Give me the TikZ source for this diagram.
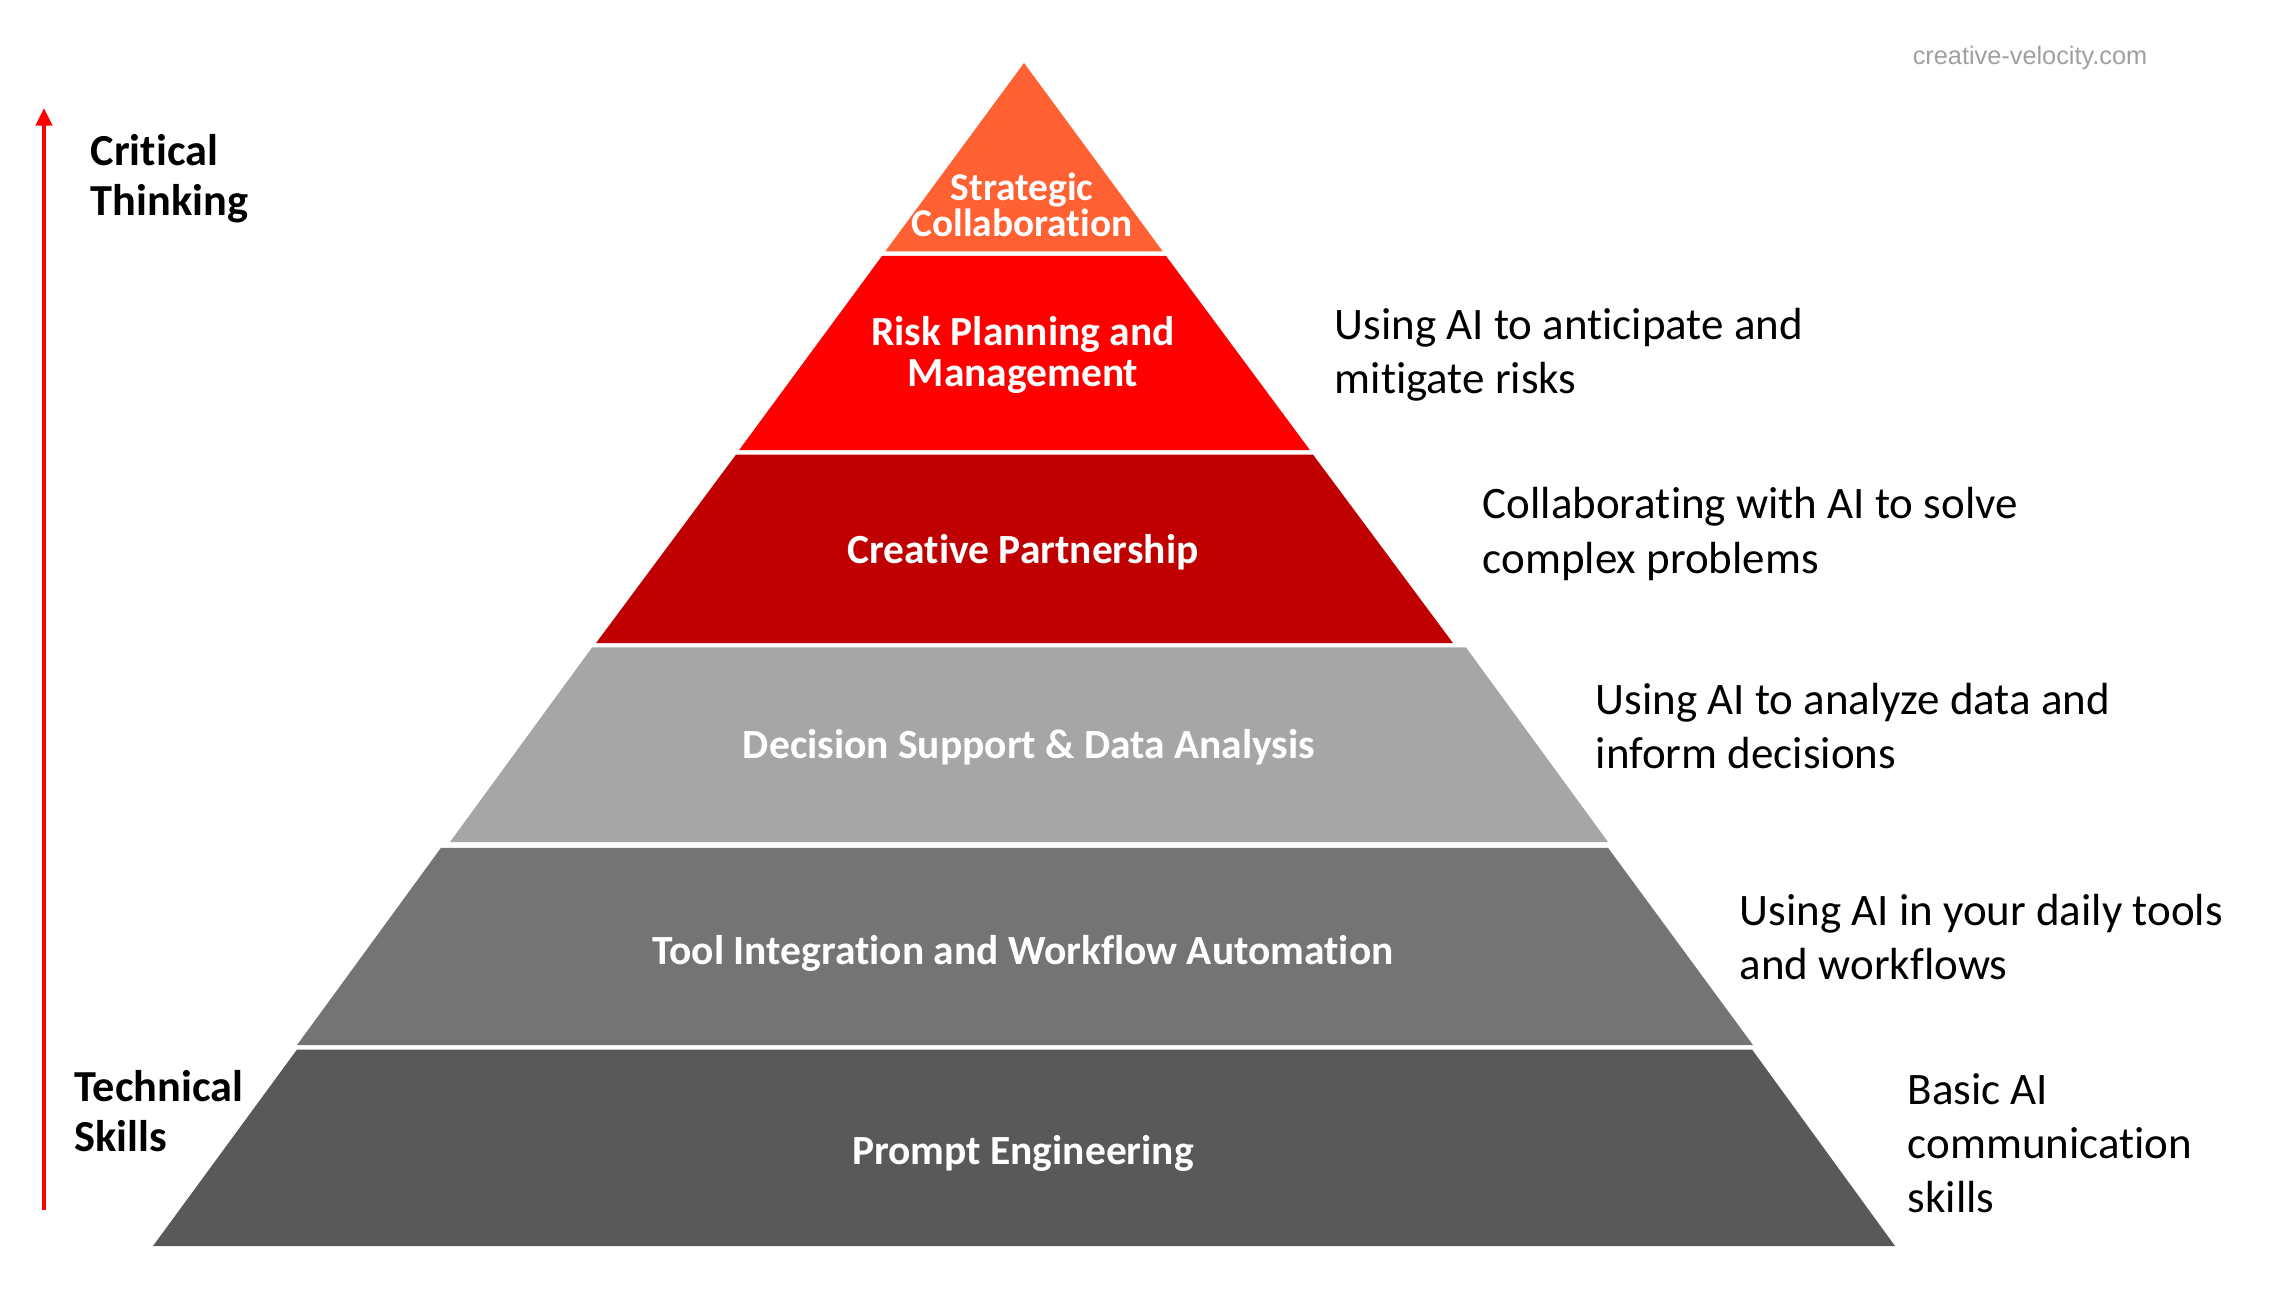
\documentclass[tikz,border=0pt]{standalone}
\usepackage{fontspec}
\setmainfont{Carlito}[Ligatures=NoCommon]
\newfontfamily\urlfont{Liberation Sans}
\usetikzlibrary{arrows.meta}
\definecolor{cOrange}{RGB}{255,97,51}
\definecolor{cRed}{RGB}{255,0,0}
\definecolor{cDark}{RGB}{192,0,0}
\definecolor{cGa}{RGB}{166,166,166}
\definecolor{cGb}{RGB}{116,116,116}
\definecolor{cGc}{RGB}{89,89,89}
\definecolor{cUrl}{RGB}{160,160,160}
\begin{document}
\begin{tikzpicture}[x=0.01cm,y=-0.01cm,
 layerlabel/.style={text=white,font=\fontsize{11.8}{11.7}\selectfont\bfseries,align=center,inner sep=0},
 desc/.style={anchor=west,align=left,font=\fontsize{12.8}{15.4}\selectfont,inner sep=0},
 sidelabel/.style={anchor=west,align=left,font=\fontsize{12.6}{14.3}\selectfont\bfseries,inner sep=0}]
\useasboundingbox[fill=white] (0,0) rectangle (2292,1292);

% pyramid layers
\fill[cOrange] (1024,63) -- (1162.7,251.4) -- (885.3,251.4) -- cycle;
\fill[cRed] (882.1,255.8) -- (1165.9,255.8) -- (1310,450.2) -- (739,450.2) -- cycle;
\fill[cDark] (736,454.6) -- (1313,454.6) -- (1453,643.1) -- (596,643.1) -- cycle;
\fill[cGa] (592,647.5) -- (1466,647.5) -- (1608,842) -- (450,842) -- cycle;
\fill[cGb] (441,847.8) -- (1608,847.8) -- (1753,1045.1) -- (297,1045.1) -- cycle;
\fill[cGc] (297,1049.5) -- (1752,1049.5) -- (1895,1246) -- (153,1246) -- cycle;

% layer labels
\node[layerlabel,font=\fontsize{11.2}{10.4}\selectfont\bfseries] (l1) at (1022,205) {Strategic\\Collaboration};
\node[layerlabel] (l2) at (1023,355) {Risk Planning and\\Management};
\node[layerlabel] (l3) at (1023,552) {Creative Partnership};
\node[layerlabel] (l4) at (1029,747) {Decision Support \& Data Analysis};
\node[layerlabel] (l5) at (1023,953) {Tool Integration and Workflow Automation};
\node[layerlabel] (l6) at (1023,1153) {Prompt Engineering};

% descriptions
\node[desc] (d2) at (1334,355) {Using AI to anticipate and\\mitigate risks};
\node[desc] (d3) at (1482,534) {Collaborating with AI to solve\\complex problems};
\node[desc] (d4) at (1595,726) {Using AI to analyze data and\\inform decisions};
\node[desc] (d5) at (1739,937) {Using AI in your daily tools\\and workflows};
\node[desc] (d6) at (1907,1143) {Basic AI\\communication\\skills};

% left axis
\coordinate (ab) at (44,1210);
\coordinate (at) at (44,108);
\draw[cRed,line width=1.3pt,-{Triangle[width=4.5pt,length=5pt]}] (ab) -- (at);
\node[sidelabel] (ct) at (90,179) {Critical\\Thinking};
\node[sidelabel] (ts) at (74,1111) {Technical\\Skills};

% url
\node[text=cUrl,font=\urlfont\fontsize{7.2}{8}\selectfont,inner sep=0] (url) at (2030,58) {creative-velocity.com};
\end{tikzpicture}
\end{document}
